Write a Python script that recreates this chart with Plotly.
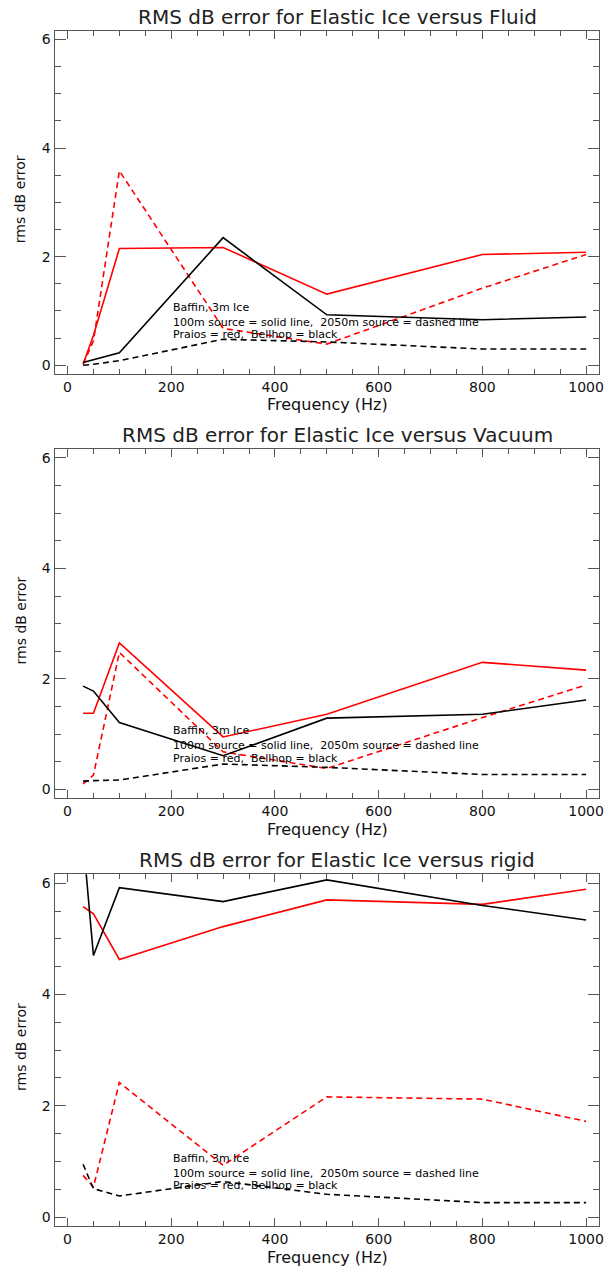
import plotly.graph_objects as go

freq = [30, 50, 100, 300, 500, 800, 1000]

# Panel 1: Elastic Ice versus Fluid
fluid_praios_100 = [0.02, 0.55, 2.15, 2.17, 1.31, 2.04, 2.08]
fluid_praios_2050 = [0.02, 0.45, 3.58, 0.68, 0.39, 1.42, 2.04]
fluid_bellhop_100 = [0.05, 0.10, 0.23, 2.35, 0.93, 0.84, 0.89]
fluid_bellhop_2050 = [0.00, 0.02, 0.085, 0.48, 0.43, 0.30, 0.30]

# Panel 2: Elastic Ice versus Vacuum
vac_praios_100 = [1.38, 1.38, 2.65, 0.95, 1.36, 2.30, 2.16]
vac_praios_2050 = [0.10, 0.26, 2.48, 0.68, 0.38, 1.30, 1.89]
vac_bellhop_100 = [1.87, 1.78, 1.21, 0.61, 1.29, 1.36, 1.62]
vac_bellhop_2050 = [0.15, 0.16, 0.17, 0.46, 0.40, 0.27, 0.27]

# Panel 3: Elastic Ice versus rigid
rig_praios_100 = [5.58, 5.45, 4.63, 5.22, 5.70, 5.62, 5.89]
rig_praios_2050 = [0.75, 0.54, 2.42, 0.93, 2.16, 2.12, 1.72]
rig_bellhop_100 = [6.80, 4.70, 5.92, 5.67, 6.06, 5.60, 5.34]
rig_bellhop_2050 = [0.95, 0.51, 0.38, 0.64, 0.41, 0.26, 0.26]

titles = ["RMS dB error for Elastic Ice versus Fluid",
          "RMS dB error for Elastic Ice versus Vacuum",
          "RMS dB error for Elastic Ice versus rigid"]
note_lines = ["Baffin, 3m Ice",
              "100m source = solid line,\u00a0\u00a02050m source = dashed line",
              "Praios = red,\u00a0\u00a0Bellhop = black"]
note_y = [1.06, 0.79, 0.56]
note_x = 200
x_ticks = [0, 200, 400, 600, 800, 1000]
y_ticks = [0, 2, 4, 6]

panels = [
    (fluid_praios_100, fluid_praios_2050, fluid_bellhop_100, fluid_bellhop_2050),
    (vac_praios_100, vac_praios_2050, vac_bellhop_100, vac_bellhop_2050),
    (rig_praios_100, rig_praios_2050, rig_bellhop_100, rig_bellhop_2050),
]

H = 1267.0
W = 614.0
# pixel frame (top, bottom) for each panel
frames = [(30.7, 374.0), (449.0, 798.3), (874.3, 1226.0)]
x_dom = [55 / W, 604 / W]

fig = go.Figure()
annotations = []
tickfont = dict(family="DejaVu Sans", size=14, color="#111111")
axcol = "#555555"

for i, (pr100, pr2050, bh100, bh2050) in enumerate(panels):
    n = i + 1
    xa = "x" if n == 1 else f"x{n}"
    ya = "y" if n == 1 else f"y{n}"
    for vals, color, dash in [(pr100, "#ff0000", "solid"), (pr2050, "#ff0000", "6px,4px"),
                              (bh100, "#000000", "solid"), (bh2050, "#000000", "6px,4px")]:
        fig.add_trace(go.Scatter(x=freq, y=vals, mode="lines", xaxis=xa, yaxis=ya,
                                 line=dict(color=color, width=1.6, dash=dash),
                                 showlegend=False, hoverinfo="skip"))
    top, bot = frames[i]
    ydom = [1 - bot / H, 1 - top / H]
    xkey = "xaxis" if n == 1 else f"xaxis{n}"
    ykey = "yaxis" if n == 1 else f"yaxis{n}"
    fig.update_layout(**{
        xkey: dict(domain=x_dom, anchor=ya, range=[-25, 1025], tickvals=x_ticks,
                   ticks="inside", ticklen=8, tickcolor=axcol, tickwidth=1,
                   minor=dict(ticks="inside", dtick=50, ticklen=5, tickcolor=axcol, tickwidth=1),
                   showline=True, linecolor=axcol, linewidth=1, mirror="allticks",
                   showgrid=False, zeroline=False, tickfont=tickfont),
        ykey: dict(domain=ydom, anchor=xa, range=[-0.16, 6.16], tickvals=y_ticks,
                   ticks="inside", ticklen=11, tickcolor=axcol, tickwidth=1,
                   minor=dict(ticks="inside", dtick=0.5, ticklen=6, tickcolor=axcol, tickwidth=1),
                   showline=True, linecolor=axcol, linewidth=1, mirror="allticks",
                   showgrid=False, zeroline=False, tickfont=tickfont),
    })
    # panel title
    annotations.append(dict(text=titles[i], xref="paper", yref="paper",
                            x=340 / W, y=1 - (top - 14) / H, xanchor="center", yanchor="middle",
                            showarrow=False, font=dict(family="DejaVu Sans", size=20, color="#222222")))
    # x-axis title
    annotations.append(dict(text="Frequency (Hz)", xref="paper", yref="paper",
                            x=330 / W, y=1 - (bot + 31) / H, xanchor="center", yanchor="middle",
                            showarrow=False, font=dict(family="DejaVu Sans", size=16, color="#111111")))
    # y-axis title
    annotations.append(dict(text="rms dB error", xref="paper", yref="paper", textangle=-90,
                            x=21 / W, y=1 - ((top + bot) / 2 - 3) / H, xanchor="center", yanchor="middle",
                            showarrow=False, font=dict(family="DejaVu Sans", size=14, color="#111111")))
    # note text
    for line, yy in zip(note_lines, note_y):
        annotations.append(dict(text=line, xref=xa, yref=ya, x=note_x, y=yy,
                                xanchor="left", yanchor="middle", showarrow=False,
                                font=dict(family="DejaVu Sans", size=11, color="#000000")))

fig.update_layout(width=614, height=1267, margin=dict(l=0, r=0, t=0, b=0),
                  paper_bgcolor="white", plot_bgcolor="white",
                  annotations=annotations, showlegend=False)

fig.write_html("out.html")
